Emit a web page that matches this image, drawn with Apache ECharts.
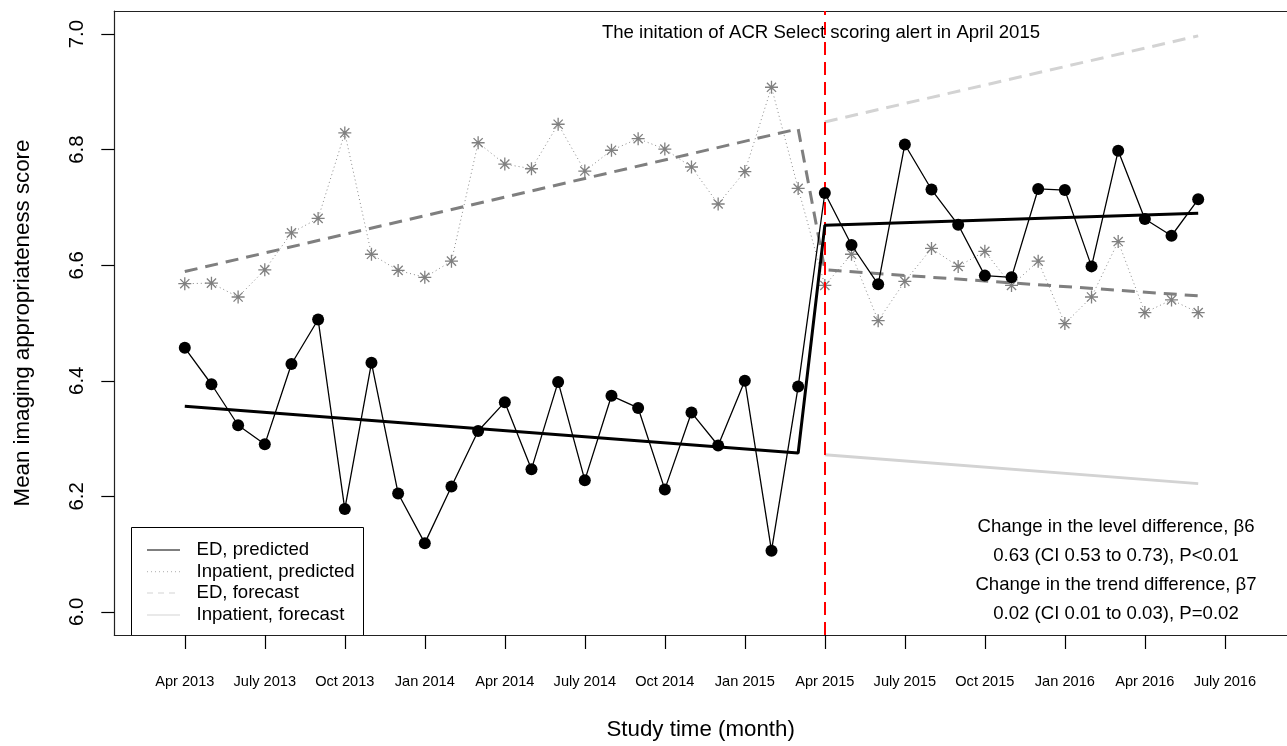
<!DOCTYPE html>
<html>
<head>
<meta charset="utf-8">
<script src="https://cdn.jsdelivr.net/npm/echarts@6/dist/echarts.min.js"></script>
<style>
html,body{margin:0;padding:0;background:#fff;}
#chart{width:1287px;height:746px;}
</style>
</head>
<body>
<div id="chart"></div>
<script>
// ---- data (month index 0 = Apr 2013) ----
var tickMonths = [0, 3, 6, 9, 12, 15, 18, 21, 24, 27, 30, 33, 36, 39];
var tickLabels = ['Apr 2013','July 2013','Oct 2013','Jan 2014','Apr 2014','July 2014','Oct 2014','Jan 2015','Apr 2015','July 2015','Oct 2015','Jan 2016','Apr 2016','July 2016'];
var yTicks = [6.0, 6.2, 6.4, 6.6, 6.8, 7.0];

var edObserved = [6.457, 6.394, 6.323, 6.290, 6.429, 6.506, 6.178, 6.431, 6.205, 6.119, 6.217, 6.313,
                  6.363, 6.247, 6.398, 6.228, 6.374, 6.353, 6.212, 6.345, 6.288, 6.400, 6.106, 6.390,
                  6.725, 6.635, 6.567, 6.809, 6.731, 6.670, 6.582, 6.579, 6.732, 6.730, 6.598, 6.798,
                  6.680, 6.651, 6.714];
var inpObserved = [6.568, 6.569, 6.545, 6.592, 6.656, 6.681, 6.829, 6.619, 6.591, 6.579, 6.607, 6.812,
                   6.775, 6.767, 6.844, 6.763, 6.799, 6.819, 6.801, 6.770, 6.706, 6.762, 6.908, 6.733,
                   6.565, 6.619, 6.504, 6.572, 6.629, 6.598, 6.624, 6.565, 6.607, 6.499, 6.545, 6.641,
                   6.518, 6.540, 6.518];

var edFit       = [[0, 6.356], [23, 6.275], [24, 6.669], [38, 6.690]];
var inpFit      = [[0, 6.589], [23, 6.836], [24, 6.592], [38, 6.547]];
var edForecast  = [[24, 6.848], [38, 6.997]];
var inpForecast = [[24, 6.272], [38, 6.222]];
var interventionMonth = 24;

var legendNames = ['ED, predicted', 'Inpatient, predicted', 'ED, forecast', 'Inpatient, forecast'];
var topNote = 'The initation of ACR Select scoring alert in April 2015';
var statNotes = ['Change in the level difference, \u03B26',
                 '0.63 (CI 0.53 to 0.73), P<0.01',
                 'Change in the trend difference, \u03B27',
                 '0.02 (CI 0.01 to 0.03), P=0.02'];

// ---- chart ----
var FONT = 'Liberation Sans, Arial, Helvetica, sans-serif';
function pairs(arr){ return arr.map(function(v,i){ return [i, v]; }); }

var chart = echarts.init(document.getElementById('chart'), null, {renderer:'canvas'});
var asterisk = 'path://M0,-1.414L0,1.414M-1.414,0L1.414,0M-1,-1L1,1M-1,1L1,-1';

var legendStyles = [
  {stroke:'#000000', lineDash:null},
  {stroke:'#bdbdbd', lineDash:[1,3]},
  {stroke:'#d3d3d3', lineDash:[6,5]},
  {stroke:'#d3d3d3', lineDash:null}
];
var legendRows = [550, 571.7, 593, 615];
var legendChildren = [{
  type:'rect', shape:{x:131.5, y:527.5, width:232, height:108},
  style:{fill:'#ffffff', stroke:'#000000', lineWidth:1}
}];
legendNames.forEach(function(n,i){
  legendChildren.push({type:'line', shape:{x1:147, y1:legendRows[i], x2:180, y2:legendRows[i]},
    style:{stroke:legendStyles[i].stroke, lineWidth:1.2, lineDash:legendStyles[i].lineDash}});
  legendChildren.push({type:'text', x:196.5, y:legendRows[i],
    style:{text:n, font:'18.6px ' + FONT, fill:'#000', textVerticalAlign:'middle', verticalAlign:'middle'}});
});

var graphics = [{type:'group', z:100, children:legendChildren}];
graphics.push({type:'text', x:821, y:33, z:100,
  style:{text:topNote, font:'18.6px ' + FONT, fill:'#000', textAlign:'center', align:'center', verticalAlign:'middle', textVerticalAlign:'middle'}});
var noteY = [527, 555.5, 584.5, 613.5];
statNotes.forEach(function(t,i){
  graphics.push({type:'text', x:1116, y:noteY[i], z:100,
    style:{text:t, font:'18.6px ' + FONT, fill:'#000', textAlign:'center', align:'center', verticalAlign:'middle', textVerticalAlign:'middle'}});
});

var X_MIN = -2.643, X_MAX = 41.33;
var boxLine = {color:'#222', width:1.2};

var option = {
  animation:false,
  backgroundColor:'#ffffff',
  grid:{left:114.3, right:0, top:11, bottom:108, show:false, containLabel:false},
  xAxis:[{
    type:'value', min:X_MIN, max:X_MAX, position:'bottom',
    name:'Study time (month)', nameLocation:'middle', nameGap:84,
    nameTextStyle:{fontFamily:FONT, fontSize:22.3, color:'#000'},
    axisLine:{show:true, onZero:false, lineStyle:boxLine},
    splitLine:{show:false},
    axisTick:{show:true, length:14, customValues:tickMonths, lineStyle:{color:'#000', width:1.2}},
    axisLabel:{show:true, customValues:tickMonths, margin:39, fontFamily:FONT, fontSize:14.6, color:'#000',
      formatter:function(v){ var k = tickMonths.indexOf(Math.round(v)); return k >= 0 ? tickLabels[k] : ''; }}
  },{
    type:'value', min:X_MIN, max:X_MAX, position:'top',
    axisLine:{show:true, onZero:false, lineStyle:boxLine},
    axisTick:{show:false}, axisLabel:{show:false}, splitLine:{show:false}
  }],
  yAxis:{
    type:'value', min:5.96, max:7.04,
    name:'Mean imaging appropriateness score', nameLocation:'middle', nameGap:80, nameRotate:90,
    nameTextStyle:{fontFamily:FONT, fontSize:22.3, color:'#000'},
    axisLine:{show:true, onZero:false, lineStyle:boxLine},
    splitLine:{show:false},
    axisTick:{show:true, length:13, customValues:yTicks, lineStyle:{color:'#000', width:1.2}},
    axisLabel:{show:true, customValues:yTicks, rotate:90, margin:27, fontFamily:FONT, fontSize:20.4, color:'#000',
      formatter:function(v){ return v.toFixed(1); }}
  },
  graphic:graphics,
  series:[
    {name:'Inpatient forecast', type:'line', data:inpForecast, showSymbol:false, symbol:'none', silent:true, z:2,
     lineStyle:{color:'#d3d3d3', width:3, type:'solid'}},
    {name:'ED forecast', type:'line', data:edForecast, showSymbol:false, symbol:'none', silent:true, z:2,
     lineStyle:{color:'#d3d3d3', width:3, type:[13,8]}},
    {name:'Inpatient observed', type:'line', data:pairs(inpObserved), symbol:asterisk, symbolSize:13, symbolKeepAspect:true,
     silent:true, z:3,
     itemStyle:{color:'rgba(0,0,0,0)', borderColor:'#808080', borderWidth:1.3},
     lineStyle:{color:'#8a8a8a', width:1, type:[1,3]}},
    {name:'Inpatient predicted', type:'line', data:inpFit, symbol:'none', silent:true, z:4,
     lineStyle:{color:'#7f7f7f', width:3, type:[13,8]}},
    {name:'ED observed', type:'line', data:pairs(edObserved), symbol:'circle', symbolSize:12, silent:true, z:5,
     itemStyle:{color:'#000000', borderWidth:0},
     lineStyle:{color:'#000000', width:1.3}},
    {name:'ED predicted', type:'line', data:edFit, symbol:'none', silent:true, z:6,
     lineStyle:{color:'#000000', width:3},
     markLine:{symbol:'none', silent:true, label:{show:false},
       lineStyle:{color:'#ff0000', width:2, type:[13,7]},
       data:[{xAxis:interventionMonth}]}}
  ]
};
chart.setOption(option);
</script>
</body>
</html>
